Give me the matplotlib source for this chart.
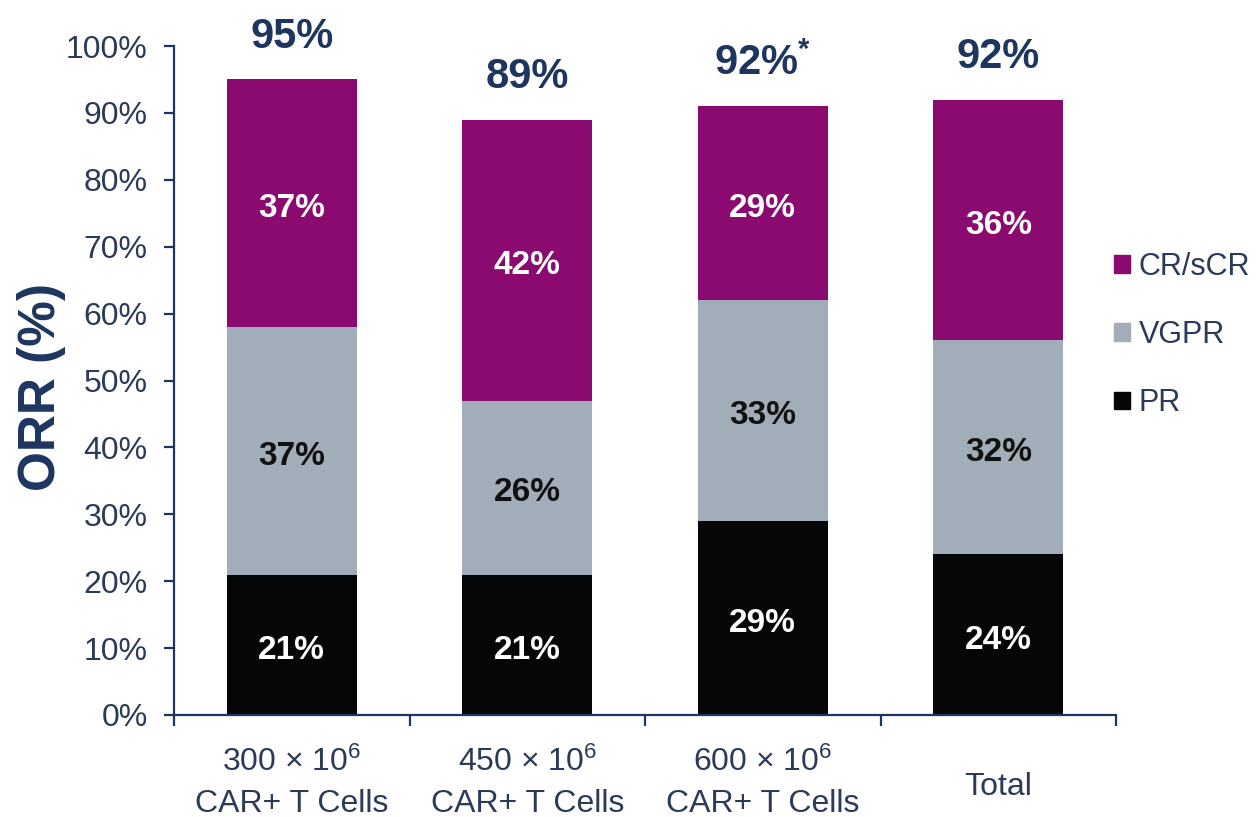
import matplotlib
matplotlib.use("Agg")
import matplotlib.pyplot as plt
from matplotlib.patches import Patch
from matplotlib.transforms import ScaledTranslation
import numpy as np

# ---- data ----
categories = ["300 × 10$^{6}$\nCAR+ T Cells", "450 × 10$^{6}$\nCAR+ T Cells",
              "600 × 10$^{6}$\nCAR+ T Cells", "Total"]
pr = [21, 21, 29, 24]
vgpr = [37, 26, 33, 32]
cr = [37, 42, 29, 36]
orr_labels = ["95%", "89%", "92%$^{*}$", "92%"]
series_names = ["CR/sCR", "VGPR", "PR"]
yticks = [0, 10, 20, 30, 40, 50, 60, 70, 80, 90, 100]

# ---- fonts ----
fam = "Liberation Sans"
plt.rcParams["font.family"] = [fam, "DejaVu Sans"]
plt.rcParams["mathtext.fontset"] = "custom"
plt.rcParams["mathtext.rm"] = fam
plt.rcParams["mathtext.it"] = fam
plt.rcParams["mathtext.bf"] = fam + ":bold"
plt.rcParams["mathtext.default"] = "regular"

c_cr = "#8b0a6f"
c_vgpr = "#a1adb8"
c_pr = "#050608"
navy = "#1e3560"
tickc = "#2a3a58"

fig = plt.figure(figsize=(12.56, 8.17), dpi=100)
ax = fig.add_axes([174 / 1256, 1 - 715 / 817, (1116 - 174) / 1256, (715 - 46) / 817])

x = np.arange(len(categories))
w = 0.553
pr_a = np.array(pr); vg_a = np.array(vgpr); cr_a = np.array(cr)
ax.bar(x, pr_a, w, color=c_pr, label="PR")
ax.bar(x, vg_a, w, bottom=pr_a, color=c_vgpr, label="VGPR")
ax.bar(x, cr_a, w, bottom=pr_a + vg_a, color=c_cr, label="CR/sCR")

# segment labels
for i in range(len(x)):
    ax.text(x[i], pr_a[i] / 2 - 0.8, f"{pr[i]}%", ha="center", va="center",
            color="white", fontsize=24, fontweight="bold")
    ax.text(x[i], pr_a[i] + vg_a[i] / 2 - 0.8, f"{vgpr[i]}%", ha="center", va="center",
            color="#111111", fontsize=24, fontweight="bold")
    ax.text(x[i], pr_a[i] + vg_a[i] + cr_a[i] / 2 - 0.8, f"{cr[i]}%", ha="center",
            va="center", color="white", fontsize=24, fontweight="bold")
    tot = pr_a[i] + vg_a[i] + cr_a[i]
    ax.text(x[i], tot + 6.4, orr_labels[i], ha="center", va="center", color=navy,
            fontsize=30, fontweight="bold", clip_on=False)

ax.set_xlim(-0.5, len(x) - 0.5)
ax.set_ylim(0, 100)
ax.set_yticks(yticks)
ax.set_yticklabels([f"{v}%" for v in yticks])
ax.set_xticks(x)
ax.set_xticklabels(categories)
ax.set_xticks(np.arange(len(x) + 1) - 0.5, minor=True)

for s in ["top", "right"]:
    ax.spines[s].set_visible(False)
for s in ["left", "bottom"]:
    ax.spines[s].set_color(navy)
    ax.spines[s].set_linewidth(1.6)

ax.tick_params(axis="y", which="major", direction="out", length=7, width=1.6,
               color=navy, labelsize=23, labelcolor=tickc, pad=12)
ax.tick_params(axis="x", which="major", length=0, labelsize=23, labelcolor=tickc, pad=23)
ax.tick_params(axis="x", which="minor", direction="out", length=8, width=1.6, color=navy)

for lab in ax.get_xticklabels():
    lab.set_linespacing(1.45)
# vertically center the single-line "Total" label against the two-line ones
tl = ax.get_xticklabels()[3]
tl.set_transform(tl.get_transform() + ScaledTranslation(0, -0.25, fig.dpi_scale_trans))

ax.set_ylabel("ORR (%)", fontsize=37, fontweight="bold", color=navy)
ax.yaxis.label.set_va("center")
ax.yaxis.set_label_coords(-0.141, 0.49)

handles = [Patch(color=c_cr), Patch(color=c_vgpr), Patch(color=c_pr)]
fig.legend(handles, series_names, loc="center left", bbox_to_anchor=(1102 / 1256, 1 - 335 / 817),
           frameon=False, fontsize=22, labelcolor=tickc, handlelength=0.5, handleheight=0.5,
           handletextpad=0.3, labelspacing=1.25, borderaxespad=0)

fig.savefig("out.png", dpi=100, facecolor="white")
